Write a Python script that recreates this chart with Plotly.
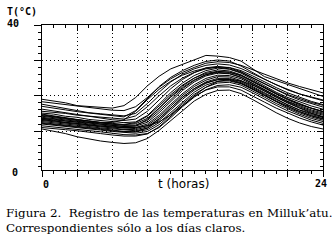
import plotly.graph_objects as go

hours = list(range(25))

day_a = [19.0, 18.6, 18.0, 17.2, 17.0, 16.8, 16.5, 17.2, 19.5, 22.8, 25.5, 27.6, 28.9, 30.2, 31.4, 31.2, 30.8, 29.8, 27.5, 25.4, 24.3, 23.2, 22.0, 20.8, 19.8]
day_b = [18.3, 17.9, 17.6, 17.0, 16.6, 16.2, 15.9, 15.8, 16.9, 19.5, 22.4, 24.8, 26.6, 28.0, 29.2, 29.6, 29.4, 28.6, 27.3, 26.0, 24.7, 23.6, 22.6, 21.7, 20.8]
day_c = [17.6, 17.0, 16.4, 15.9, 15.2, 14.9, 14.6, 14.3, 15.0, 17.8, 21.0, 23.9, 26.1, 27.6, 28.6, 29.0, 28.7, 27.7, 26.2, 24.6, 23.0, 21.6, 20.5, 19.6, 18.8]
day_d = [16.2, 15.7, 15.2, 14.6, 14.1, 13.7, 13.2, 13.0, 13.4, 15.6, 18.9, 22.0, 24.6, 26.5, 27.9, 28.3, 27.9, 26.8, 25.1, 23.4, 21.8, 20.3, 19.1, 18.1, 17.3]
day_e = [15.1, 14.8, 14.2, 13.9, 13.3, 13.0, 12.6, 12.4, 12.6, 14.4, 17.6, 20.9, 23.6, 25.7, 27.1, 27.8, 27.5, 26.4, 24.6, 22.8, 21.0, 19.5, 18.2, 17.1, 16.2]
day_f = [14.6, 14.1, 13.8, 13.2, 12.9, 12.4, 12.2, 11.8, 12.1, 13.6, 16.5, 19.8, 22.7, 25.0, 26.6, 27.3, 27.0, 25.9, 24.1, 22.2, 20.5, 19.0, 17.6, 16.5, 15.6]
day_g = [14.2, 13.9, 13.4, 13.0, 12.5, 12.3, 11.9, 11.6, 11.7, 13.0, 15.8, 19.0, 22.0, 24.3, 25.9, 26.6, 26.3, 25.2, 23.4, 21.6, 19.9, 18.4, 17.1, 16.0, 15.1]
day_h = [13.9, 13.5, 13.2, 12.7, 12.4, 12.0, 11.6, 11.3, 11.4, 12.5, 15.2, 18.4, 21.5, 23.9, 25.6, 26.4, 26.2, 25.2, 23.5, 21.7, 19.9, 18.3, 16.9, 15.7, 14.8]
day_i = [13.5, 13.2, 12.8, 12.5, 12.0, 11.8, 11.4, 11.0, 11.0, 12.0, 14.5, 17.6, 20.6, 23.1, 24.9, 25.8, 25.7, 24.8, 23.2, 21.4, 19.6, 18.0, 16.6, 15.4, 14.5]
day_j = [13.2, 12.9, 12.6, 12.1, 11.8, 11.4, 11.1, 10.8, 10.7, 11.6, 14.0, 17.1, 20.1, 22.6, 24.4, 25.4, 25.3, 24.3, 22.6, 20.8, 19.0, 17.4, 16.0, 14.9, 14.0]
day_k = [13.0, 12.6, 12.3, 11.9, 11.5, 11.2, 10.9, 10.5, 10.4, 11.2, 13.5, 16.5, 19.5, 22.0, 23.9, 24.9, 24.9, 24.0, 22.4, 20.6, 18.9, 17.3, 15.9, 14.7, 13.8]
day_l = [12.7, 12.4, 12.1, 11.6, 11.3, 10.9, 10.6, 10.2, 10.1, 10.8, 13.0, 16.0, 19.0, 21.6, 23.5, 24.6, 24.6, 23.7, 22.1, 20.3, 18.5, 16.9, 15.5, 14.3, 13.4]
day_m = [12.4, 12.0, 11.8, 11.3, 11.0, 10.7, 10.3, 9.9, 9.8, 10.4, 12.4, 15.3, 18.3, 21.0, 23.0, 24.1, 24.2, 23.4, 21.8, 20.0, 18.3, 16.6, 15.2, 14.0, 13.1]
day_n = [12.0, 11.7, 11.4, 11.0, 10.6, 10.3, 9.9, 9.6, 9.4, 9.9, 11.8, 14.7, 17.7, 20.4, 22.4, 23.6, 23.8, 23.0, 21.4, 19.6, 17.8, 16.2, 14.8, 13.6, 12.7]
day_o = [11.5, 11.2, 10.9, 10.5, 10.1, 9.8, 9.4, 9.0, 8.9, 9.3, 11.0, 13.8, 16.9, 19.6, 21.7, 22.9, 23.1, 22.4, 20.8, 19.0, 17.3, 15.7, 14.3, 13.1, 12.2]
day_p = [10.6, 10.0, 9.3, 8.4, 7.7, 7.2, 6.8, 6.5, 6.7, 7.9, 10.2, 13.0, 15.9, 18.5, 20.4, 21.5, 21.6, 20.6, 18.9, 17.0, 15.2, 13.6, 12.3, 11.3, 10.6]
day_q = [17.0, 16.6, 16.0, 15.5, 15.1, 14.6, 14.2, 14.0, 15.8, 19.2, 22.6, 25.2, 27.1, 28.6, 29.7, 30.1, 29.8, 28.4, 26.5, 24.7, 23.1, 21.7, 20.5, 19.5, 18.6]
day_r = [13.3, 13.0, 12.4, 12.2, 11.7, 11.5, 11.2, 10.9, 11.0, 11.5, 12.6, 14.6, 17.2, 20.0, 22.4, 24.0, 24.6, 24.2, 23.0, 21.4, 19.6, 17.9, 16.4, 15.1, 14.1]
day_s = [14.8, 14.3, 13.7, 13.3, 12.8, 12.5, 12.4, 13.2, 15.6, 18.9, 21.8, 24.1, 25.8, 27.0, 27.8, 28.0, 27.6, 26.6, 25.0, 23.3, 21.6, 20.1, 18.8, 17.7, 16.8]
day_t = [11.0, 10.8, 10.4, 10.1, 9.6, 9.3, 8.9, 8.6, 8.6, 9.2, 11.2, 14.2, 17.2, 19.8, 21.6, 22.5, 22.5, 21.6, 20.0, 18.2, 16.5, 15.0, 13.7, 12.6, 11.7]
day_u = [15.6, 15.4, 15.0, 14.5, 14.2, 13.8, 13.5, 13.4, 14.3, 16.9, 20.0, 22.8, 25.0, 26.6, 27.6, 28.1, 28.0, 27.1, 25.6, 23.9, 22.3, 20.8, 19.5, 18.4, 17.5]
day_v = [14.4, 14.0, 13.6, 13.1, 12.7, 12.5, 12.0, 11.9, 12.4, 14.2, 17.1, 20.3, 23.0, 25.0, 26.3, 26.9, 26.6, 25.6, 23.9, 22.0, 20.3, 18.8, 17.5, 16.4, 15.4]
day_w = [13.6, 13.4, 12.9, 12.6, 12.2, 11.9, 11.7, 11.3, 11.5, 13.3, 16.4, 19.6, 22.3, 24.5, 26.0, 26.8, 26.7, 25.8, 24.2, 22.4, 20.7, 19.1, 17.7, 16.5, 15.5]
day_x = [12.2, 11.9, 11.5, 11.2, 10.8, 10.5, 10.1, 9.8, 9.8, 10.9, 13.4, 16.6, 19.6, 22.0, 23.7, 24.5, 24.4, 23.5, 21.9, 20.1, 18.4, 16.9, 15.5, 14.4, 13.5]

days = [day_a, day_b, day_c, day_d, day_e, day_f, day_g, day_h, day_i, day_j, day_k, day_l,
        day_m, day_n, day_o, day_p, day_q, day_r, day_s, day_t, day_u, day_v, day_w, day_x]

y_label = "T(°C)"
x_label = "t (horas)"
caption_1 = "Figura 2.\u00a0\u00a0Registro de las temperaturas en Milluk’atu."
caption_2 = "Correspondientes sólo a los días claros."

W, H = 335, 242
L, R, T, B = 42, 12, 25, 72
pw, ph = W - L - R, H - T - B


def px(x):
    return (x - L) / pw


def py(y):
    return (H - B - y) / ph


fig = go.Figure()
for d in days:
    fig.add_trace(go.Scatter(x=hours, y=d, mode="lines",
                             line=dict(color="black", width=1),
                             hoverinfo="skip", showlegend=False))
fig.add_trace(go.Scatter(x=[0], y=[0], xaxis="x2", yaxis="y2", mode="markers",
                         marker=dict(opacity=0), showlegend=False, hoverinfo="skip"))

mono = "DejaVu Sans Mono"
axis_common = dict(showline=True, linecolor="black", linewidth=1, tickcolor="black",
                   showticklabels=False, zeroline=False)

fig.update_layout(
    width=W, height=H, margin=dict(l=L, r=R, t=T, b=B),
    paper_bgcolor="white", plot_bgcolor="white",
    xaxis=dict(range=[0, 24], tickmode="linear", tick0=0, dtick=3,
               showgrid=True, gridcolor="black", gridwidth=1, griddash="1px,3px",
               ticks="outside", ticklen=6, tickwidth=1,
               minor=dict(dtick=1, tick0=0, ticks="outside", ticklen=3, tickcolor="black", showgrid=False),
               **axis_common),
    xaxis2=dict(range=[0, 24], overlaying="x", side="top", anchor="y", tickmode="linear", tick0=0, dtick=3,
                showgrid=False, ticks="inside", ticklen=6,
                minor=dict(dtick=1, tick0=0, ticks="inside", ticklen=3, tickcolor="black"),
                **axis_common),
    yaxis=dict(range=[-1, 40], tickmode="array", tickvals=[10, 20, 30, 40],
               showgrid=True, gridcolor="black", gridwidth=1, griddash="1px,3px",
               ticks="outside", ticklen=7,
               minor=dict(dtick=2, tick0=0, ticks="outside", ticklen=3, tickcolor="black", showgrid=False),
               **axis_common),
    yaxis2=dict(range=[-1, 40], overlaying="y", side="right", anchor="x", tickmode="array",
                tickvals=[10, 20, 30, 40], showgrid=False, ticks="inside", ticklen=6,
                minor=dict(dtick=2, tick0=0, ticks="inside", ticklen=3, tickcolor="black"),
                **axis_common),
)

def ann(text, x, y, size, family, bold=False, anchor="center"):
    fig.add_annotation(text=text, x=px(x), y=py(y), xref="paper", yref="paper",
                       xanchor=anchor, yanchor="middle", showarrow=False,
                       font=dict(size=size, family=family, color="black",
                                 weight="bold" if bold else "normal"))

ann(y_label, 5, 11, 10, mono, True, "left")
ann("40", 5, 24, 10, mono, True, "left")
ann("0", 15, 172, 10, mono, True)
ann("0", 46, 184, 10, mono, True)
ann("24", 321, 183, 10, mono, True)
ann(x_label, 183, 184, 12, "DejaVu Sans", False)
ann(caption_1, 4, 213, 11.9, "DejaVu Serif", False, "left")
ann(caption_2, 4, 228, 11.9, "DejaVu Serif", False, "left")

fig.write_html("out.html", config={"displayModeBar": False},
               post_script="document.body.style.margin='0';")
